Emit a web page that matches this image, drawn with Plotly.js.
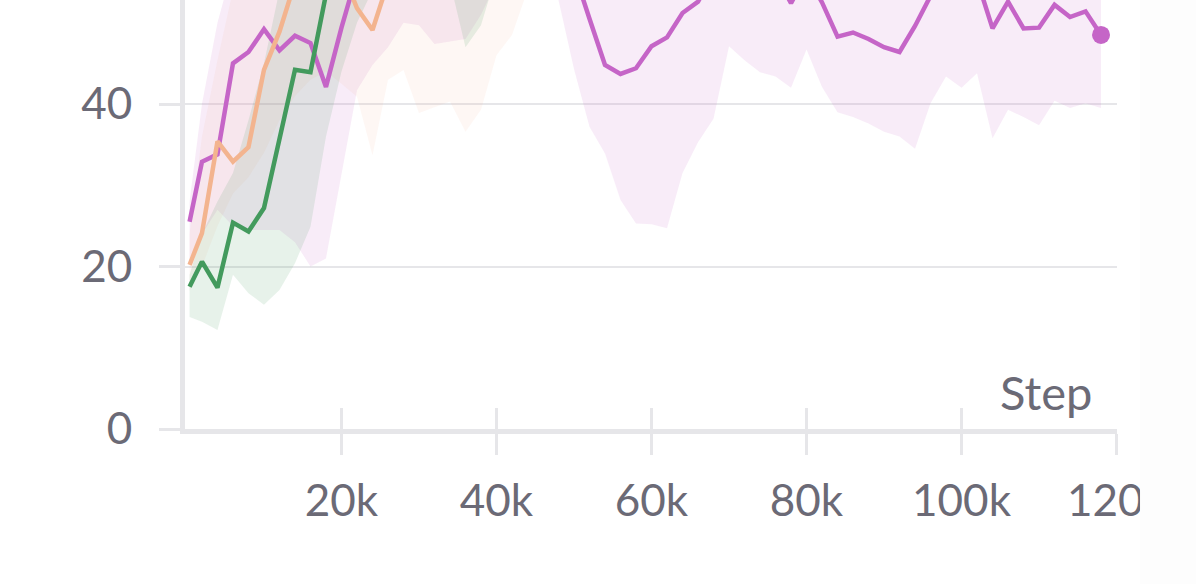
<!DOCTYPE html>
<html>
<head>
<meta charset="utf-8">
<script src="https://cdn.plot.ly/plotly-3.0.1.min.js"></script>
<style>
  html, body { margin: 0; padding: 0; background: #ffffff; }
  #chart { width: 1196px; height: 584px; }
</style>
</head>
<body>
<div id="chart"></div>
<script>
// ---------------- data ----------------
const steps = [400, 2000, 4000, 6000, 8000, 10000, 12000, 14000, 16000, 18000,
  20000, 22000, 24000, 26000, 28000, 30000, 32000, 34000, 36000, 38000,
  40000, 42000, 44000, 46000, 48000, 50000, 52000, 54000, 56000, 58000,
  60000, 62000, 64000, 66000, 68000, 70000, 72000, 74000, 76000, 78000,
  80000, 82000, 84000, 86000, 88000, 90000, 92000, 94000, 96000, 98000,
  100000, 102000, 104000, 106000, 108000, 110000, 112000, 114000, 116000, 118000];

// purple run
const purpleMean = [25.5, 32.9, 33.8, 45.0, 46.4, 49.2, 46.6, 48.4, 47.5, 42.1,
  49.4, 56.0, 60.0, 62.0, 63.0, 64.0, 65.0, 64.0, 66.0, 65.0,
  66.0, 65.0, 64.0, 63.0, 61.0, 56.3, 50.5, 44.8, 43.7, 44.4,
  47.1, 48.2, 51.2, 52.6, 56.0, 59.0, 60.0, 58.0, 56.0, 52.4,
  56.0, 52.5, 48.3, 48.8, 48.0, 47.0, 46.4, 49.6, 53.5, 57.0,
  57.0, 55.3, 49.3, 52.6, 49.3, 49.4, 52.2, 50.7, 51.4, 48.5];
const purpleMin = [21.0, 24.0, 27.0, 25.0, 24.5, 24.5, 24.5, 23.0, 20.0, 21.0,
  31.4, 41.7, 44.8, 47.0, 50.0, 49.7, 47.4, 47.7, 48.0, 51.0,
  55.0, 57.0, 57.0, 56.0, 52.8, 44.3, 37.2, 33.9, 28.2, 25.3,
  25.2, 24.7, 31.5, 35.3, 38.2, 47.1, 45.4, 43.9, 43.4, 42.0,
  46.7, 42.1, 39.0, 38.4, 37.6, 36.6, 36.0, 34.5, 40.1, 43.4,
  42.0, 43.8, 35.8, 39.3, 38.4, 37.4, 40.4, 39.5, 40.1, 39.5];
const purpleMax = [28.0, 40.0, 50.0, 57.0, 60.0, 62.0, 63.0, 64.0, 65.0, 66.0,
  67.0, 68.0, 69.0, 70.0, 70.0, 71.0, 71.0, 72.0, 72.0, 72.0,
  73.0, 73.0, 72.0, 72.0, 71.0, 70.0, 69.0, 68.0, 67.0, 67.0,
  68.0, 68.0, 69.0, 70.0, 71.0, 72.0, 72.0, 72.0, 71.0, 70.0,
  70.0, 69.0, 68.0, 68.0, 67.0, 67.0, 66.0, 67.0, 68.0, 69.0,
  69.0, 68.0, 67.0, 67.0, 66.0, 66.0, 66.0, 65.0, 65.0, 64.0];

// orange run
const orangeSteps = steps.slice(0, 23);
const orangeMean = [20.2, 24.1, 35.4, 32.9, 34.7, 44.2, 48.9, 55.0, 57.0, 58.0,
  56.5, 51.8, 49.1, 55.0, 58.0, 60.0, 61.0, 62.0, 62.0, 63.0,
  63.0, 64.0, 64.0];
const orangeMin = [17.0, 20.0, 25.0, 29.0, 31.0, 34.0, 38.0, 41.0, 43.0, 44.0,
  42.5, 40.9, 33.7, 43.0, 44.2, 38.9, 39.6, 40.3, 36.6, 39.3,
  46.0, 48.5, 54.0];
const orangeMax = [24.0, 36.0, 45.4, 54.0, 58.0, 60.0, 62.0, 63.0, 64.0, 65.0,
  65.0, 66.0, 66.0, 67.0, 68.0, 68.0, 69.0, 69.0, 70.0, 70.0,
  70.0, 71.0, 71.0];

// green run
const greenSteps = steps.slice(0, 21);
const greenMean = [17.5, 20.6, 17.4, 25.4, 24.3, 27.2, 35.7, 44.2, 43.9, 53.5,
  58.0, 60.0, 61.0, 62.0, 62.0, 63.0, 63.0, 64.0, 63.0, 64.0,
  64.0];
const greenMin = [13.8, 13.2, 12.2, 19.0, 16.7, 15.3, 17.1, 20.4, 24.9, 36.0,
  44.0, 50.0, 54.0, 55.0, 55.0, 55.0, 55.0, 55.0, 47.0, 49.7,
  56.0];
const greenMax = [19.0, 24.0, 28.0, 31.5, 38.0, 45.0, 54.0, 58.0, 60.0, 62.0,
  63.0, 64.0, 65.0, 66.0, 66.0, 67.0, 67.0, 68.0, 68.0, 68.0,
  69.0];

const xTickVals = [20000, 40000, 60000, 80000, 100000, 120000];
const xTickText = ['20k', '40k', '60k', '80k', '100k', '120k'];
const yTickVals = [0, 20, 40];
const yTickText = ['0', '20', '40'];

// ---------------- styling ----------------
const PURPLE = '#c565c7';
const ORANGE = '#f3b48f';
const GREEN = '#439a5d';
const AXIS = '#e6e6e9';
const TEXT = '#6b6a76';
const FONT = 'Lato, "Open Sans", sans-serif';

function band(xs, lo, hi, color) {
  return {
    x: xs.concat(xs.slice().reverse()),
    y: hi.concat(lo.slice().reverse()),
    type: 'scatter', mode: 'lines', fill: 'toself',
    fillcolor: color, line: { width: 0, color: 'rgba(0,0,0,0)' },
    hoverinfo: 'skip', showlegend: false
  };
}
function line(xs, ys, color) {
  return {
    x: xs, y: ys, type: 'scatter', mode: 'lines',
    line: { color: color, width: 4.5, shape: 'linear' },
    showlegend: false
  };
}

const traces = [
  band(steps, purpleMin, purpleMax, 'rgba(197,101,199,0.12)'),
  band(orangeSteps, orangeMin, orangeMax, 'rgba(243,180,143,0.10)'),
  band(greenSteps, greenMin, greenMax, 'rgba(71,154,95,0.13)'),
  line(steps, purpleMean, PURPLE),
  line(greenSteps, greenMean, GREEN),
  line(orangeSteps, orangeMean, ORANGE),
  {
    x: [steps[steps.length - 1]], y: [purpleMean[purpleMean.length - 1]],
    type: 'scatter', mode: 'markers',
    marker: { color: PURPLE, size: 18 }, showlegend: false
  },
  // companion axis for the inward half of the x ticks
  { x: [steps[0]], y: [purpleMean[0]], xaxis: 'x2', type: 'scatter', mode: 'markers',
    marker: { opacity: 0 }, showlegend: false, hoverinfo: 'skip' }
];

const xRange = [-190, 120060];
const layout = {
  width: 1196, height: 584,
  margin: { l: 185, r: 79, t: 0, b: 155 },
  paper_bgcolor: '#ffffff', plot_bgcolor: '#ffffff',
  font: { family: FONT, color: TEXT, size: 44 },
  showlegend: false,
  xaxis: {
    range: xRange, tickmode: 'array', tickvals: xTickVals, ticktext: xTickText,
    ticks: 'outside', ticklen: 21, tickwidth: 3, tickcolor: AXIS,
    showline: true, linewidth: 5, linecolor: AXIS,
    showgrid: false, zeroline: false,
    tickfont: { family: FONT, size: 44, color: TEXT },
    ticklabelstandoff: 8
  },
  xaxis2: {
    overlaying: 'x', matches: 'x', range: xRange,
    tickmode: 'array', tickvals: xTickVals, ticktext: xTickText,
    ticks: 'inside', ticklen: 21, tickwidth: 3, tickcolor: AXIS,
    showticklabels: false, showline: false, showgrid: false, zeroline: false
  },
  yaxis: {
    range: [0, 52.8], tickmode: 'array', tickvals: yTickVals, ticktext: yTickText,
    ticks: 'outside', ticklen: 21, tickwidth: 3, tickcolor: AXIS,
    showline: true, linewidth: 5, linecolor: AXIS,
    showgrid: true, gridcolor: AXIS, gridwidth: 2, zeroline: false,
    tickfont: { family: FONT, size: 44, color: TEXT },
    ticklabelstandoff: 18
  },
  annotations: [{
    text: 'Step', xref: 'paper', yref: 'paper',
    x: 0.9750, y: 0.086, xanchor: 'right', yanchor: 'middle',
    showarrow: false, font: { family: FONT, size: 47, color: TEXT }
  }],
  shapes: [{
    type: 'rect', xref: 'paper', yref: 'paper', layer: 'above',
    x0: 1.0247, x1: 1.2, y0: -0.5, y1: 1.1,
    fillcolor: '#fdfdfd', line: { width: 0 }
  }]
};

Plotly.newPlot('chart', traces, layout, { staticPlot: true, displayModeBar: false });
</script>
</body>
</html>
